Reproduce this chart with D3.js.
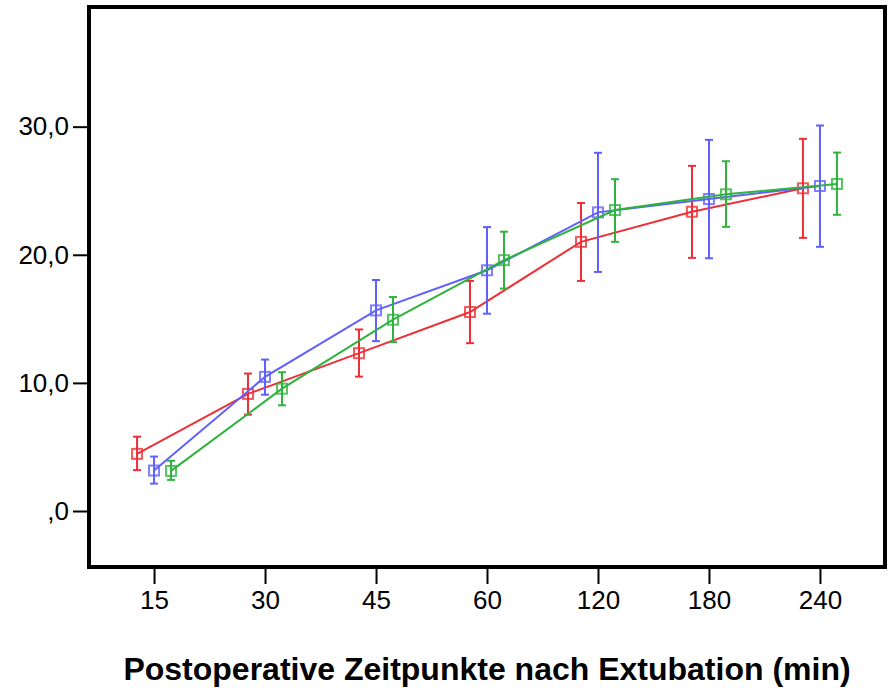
<!DOCTYPE html>
<html>
<head>
<meta charset="utf-8">
<script src="https://cdn.jsdelivr.net/npm/d3@7"></script>
<style>
  body { margin: 0; background: #fff; }
  svg { display: block; }
</style>
</head>
<body>
<div class="chart"></div>
<script>
// time points (min after extubation)
const timePoints = ["15", "30", "45", "60", "120", "180", "240"];
const yTicks = [0, 10, 20, 30];

// group means and error bar ends
const redMean  = [4.46, 9.14, 12.32, 15.53, 21.01, 23.36, 25.19];
const redLow   = [3.19, 7.52, 10.49, 13.10, 17.96, 19.76, 21.32];
const redHigh  = [5.80, 10.73, 14.17, 17.96, 24.04, 26.94, 29.05];

const blueMean = [3.16, 10.47, 15.66, 18.79, 23.31, 24.35, 25.37];
const blueLow  = [2.14, 9.08, 13.26, 15.40, 18.66, 19.73, 20.62];
const blueHigh = [4.25, 11.82, 18.03, 22.16, 27.96, 28.97, 30.09];

const greenMean = [3.13, 9.55, 14.93, 19.58, 23.49, 24.72, 25.53];
const greenLow  = [2.43, 8.25, 13.18, 17.36, 21.01, 22.18, 23.12];
const greenHigh = [3.92, 10.83, 16.70, 21.80, 25.90, 27.30, 27.98];

const groups = [
  {name: "red",   color: "#ee2f37", offset: -17, mean: redMean,   low: redLow,   high: redHigh},
  {name: "blue",  color: "#5f60fd", offset: 0,   mean: blueMean,  low: blueLow,  high: blueHigh},
  {name: "green", color: "#2eb33d", offset: 17,  mean: greenMean, low: greenLow, high: greenHigh}
];

const W = 888, H = 688;
const plot = {left: 89, right: 885, top: 7, bottom: 567};
const font = "Liberation Sans, Arial, sans-serif";

const svg = d3.select(".chart").append("svg")
  .attr("width", W).attr("height", H);

const x = d3.scalePoint()
  .domain(timePoints)
  .range([plot.left, plot.right])
  .padding(0.586);

const y = d3.scaleLinear()
  .domain([-4.37, 39.34])
  .range([plot.bottom, plot.top]);

// y axis
const yAxis = svg.append("g")
  .attr("transform", `translate(${plot.left},0)`)
  .call(d3.axisLeft(y).tickValues(yTicks).tickSize(16).tickPadding(4)
    .tickFormat(d => d === 0 ? ",0" : d3.format(".1f")(d).replace(".", ",")));
yAxis.select(".domain").remove();
yAxis.selectAll("line").attr("stroke", "#000").attr("stroke-width", 2);
yAxis.selectAll("text")
  .attr("font-family", font)
  .attr("font-size", 26).attr("fill", "#000");

// x axis
const xAxis = svg.append("g")
  .attr("transform", `translate(0,${plot.bottom})`)
  .call(d3.axisBottom(x).tickSize(17).tickPadding(7));
xAxis.select(".domain").remove();
xAxis.selectAll("line").attr("stroke", "#000").attr("stroke-width", 2);
xAxis.selectAll("text")
  .attr("font-family", font)
  .attr("font-size", 26).attr("fill", "#000");

// axis title
svg.append("text")
  .attr("x", (plot.left + plot.right) / 2)
  .attr("y", 680)
  .attr("text-anchor", "middle")
  .attr("font-family", font)
  .attr("font-weight", "bold")
  .attr("font-size", 32)
  .attr("fill", "#000")
  .text("Postoperative Zeitpunkte nach Extubation (min)");

// series
const layer = svg.append("g");
groups.forEach(g => {
  const gx = i => x(timePoints[i]) + g.offset;
  const line = d3.line()
    .x((d, i) => gx(i))
    .y(d => y(d));

  const gg = layer.append("g");
  gg.append("path")
    .datum(g.mean)
    .attr("fill", "none")
    .attr("stroke", g.color)
    .attr("stroke-width", 2)
    .attr("d", line);

  // error bars
  const bars = gg.selectAll(".err").data(g.mean).join("g");
  bars.append("line")
    .attr("x1", (d, i) => gx(i)).attr("x2", (d, i) => gx(i))
    .attr("y1", (d, i) => y(g.low[i])).attr("y2", (d, i) => y(g.high[i]))
    .attr("stroke", g.color).attr("stroke-width", 2);
  ["low", "high"].forEach(k => {
    bars.append("line")
      .attr("x1", (d, i) => gx(i) - 4).attr("x2", (d, i) => gx(i) + 4)
      .attr("y1", (d, i) => y(g[k][i])).attr("y2", (d, i) => y(g[k][i]))
      .attr("stroke", g.color).attr("stroke-width", 2);
  });

  // open square markers
  gg.selectAll("rect").data(g.mean).join("rect")
    .attr("x", (d, i) => gx(i) - 5)
    .attr("y", d => y(d) - 5)
    .attr("width", 10).attr("height", 10)
    .attr("fill", "none")
    .attr("stroke", g.color)
    .attr("stroke-opacity", 0.8)
    .attr("stroke-width", 2);
});

// frame
svg.append("rect")
  .attr("x", plot.left).attr("y", plot.top)
  .attr("width", plot.right - plot.left)
  .attr("height", plot.bottom - plot.top)
  .attr("fill", "none")
  .attr("stroke", "#000")
  .attr("stroke-width", 4);
</script>
</body>
</html>
